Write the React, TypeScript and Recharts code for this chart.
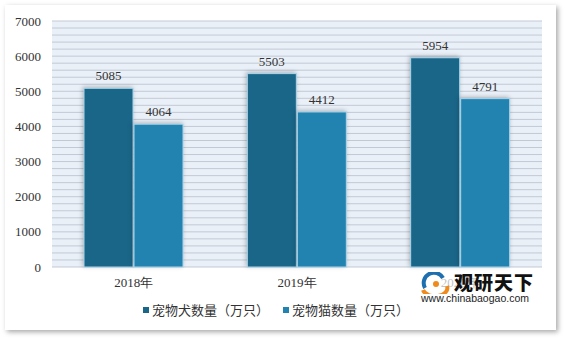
import React from "react";
import {
  BarChart,
  Bar,
  XAxis,
  YAxis,
  CartesianGrid,
  LabelList,
} from "recharts";

const years = ["2018年", "2019年", "2020年"];
const dogCounts = [5085, 5503, 5954];
const catCounts = [4064, 4412, 4791];
const yTicks = [
  0, 200, 400, 600, 800, 1000, 1200, 1400, 1600, 1800, 2000, 2200, 2400, 2600,
  2800, 3000, 3200, 3400, 3600, 3800, 4000, 4200, 4400, 4600, 4800, 5000, 5200,
  5400, 5600, 5800, 6000, 6200, 6400, 6600, 6800, 7000,
];
const seriesNames = ["宠物犬数量（万只）", "宠物猫数量（万只）"];

const data = years.map((y, i) => ({
  year: y,
  dog: dogCounts[i],
  cat: catCounts[i],
}));

const DOG = "#1a6689";
const CAT = "#2383b0";
const serif = "'Liberation Serif', 'DejaVu Serif', serif";
const cjk = "'Noto Sans CJK SC', 'Noto Sans', sans-serif";

// bar with a soft shadow like the original excel export
const ShadowBar = (props: any) => {
  const { x, y, width, height, fill } = props;
  if (!height || height <= 0) return null;
  return (
    <rect
      x={x}
      y={y}
      width={width}
      height={height}
      fill={fill}
      stroke="#a9d6ec"
      strokeWidth={1}
      style={{ filter: "drop-shadow(-1px -1px 2px rgba(0,0,0,0.25))" }}
    />
  );
};

const LegendBox = () => (
  <div
    style={{
      display: "flex",
      gap: 14,
      fontFamily: cjk,
      fontSize: 13,
      color: "#333",
      whiteSpace: "nowrap",
    }}
  >
    {[DOG, CAT].map((c, i) => (
      <div key={i} style={{ display: "flex", alignItems: "center" }}>
        <span
          style={{
            display: "inline-block",
            width: 6,
            height: 6,
            background: c,
            marginRight: 3,
          }}
        />
        {seriesNames[i]}
      </div>
    ))}
  </div>
);

export default function App() {
  return (
    <div
      style={{
        position: "absolute",
        left: 0,
        top: 0,
        width: 566,
        height: 339,
        background: "#fff",
      }}
    >
      {/* white card with grey drop shadow */}
      <div
        style={{
          position: "absolute",
          left: 5,
          top: 5,
          width: 551,
          height: 325,
          background: "#fff",
          boxShadow: "2px 2px 5px rgba(0,0,0,0.35)",
        }}
      />
      <div style={{ position: "absolute", left: 0, top: 0 }}>
        <BarChart
          width={566}
          height={339}
          data={data}
          margin={{ top: 21, right: 24, bottom: 52, left: 0 }}
          barSize={49}
          barGap={1}
        >
          <CartesianGrid
            vertical={false}
            stroke="#c3c9d4"
            fill="#eaf0f8"
            fillOpacity={1}
          />
          <XAxis
            dataKey="year"
            height={20}
            axisLine={false}
            tickLine={false}
            tickMargin={5}
            tick={{ fontFamily: serif, fontSize: 13, fill: "#333" }}
          />
          <YAxis
            width={52}
            domain={[0, 7000]}
            ticks={yTicks}
            interval={0}
            axisLine={false}
            tickLine={false}
            tickMargin={5}
            tickFormatter={(v: number) => (v % 1000 === 0 ? String(v) : "")}
            tick={{ fontFamily: serif, fontSize: 13, fill: "#333" }}
          />
          <Bar
            dataKey="dog"
            name={seriesNames[0]}
            fill={DOG}
            shape={<ShadowBar />}
            isAnimationActive={false}
          >
            <LabelList
              dataKey="dog"
              position="top"
              offset={8}
              style={{ fontFamily: serif, fontSize: 13, fill: "#333" }}
            />
          </Bar>
          <Bar
            dataKey="cat"
            name={seriesNames[1]}
            fill={CAT}
            shape={<ShadowBar />}
            isAnimationActive={false}
          >
            <LabelList
              dataKey="cat"
              position="top"
              offset={8}
              style={{ fontFamily: serif, fontSize: 13, fill: "#333" }}
            />
          </Bar>
        </BarChart>
      </div>
      {/* legend */}
      <div style={{ position: "absolute", left: 143, top: 300 }}>
        <LegendBox />
      </div>
      {/* watermark */}
      <div
        style={{
          position: "absolute",
          left: 420,
          top: 271,
          width: 118,
          height: 31,
          background: "rgba(255,255,255,0.7)",
        }}
      >
        <svg
          width={30}
          height={22}
          style={{ position: "absolute", left: 1, top: 1 }}
        >
          <path d="M4 16 A10 10 0 0 1 22 6" stroke="#1d6fb0" strokeWidth={4} fill="none" />
          <path d="M2 18 A12 8 0 0 0 26 14" stroke="#f08a1c" strokeWidth={4} fill="none" />
          <circle cx={15} cy={12} r={3} fill="#f08a1c" />
        </svg>
        <div
          style={{
            position: "absolute",
            left: 34,
            top: 1,
            fontFamily: cjk,
            fontWeight: 900,
            fontSize: 19,
            lineHeight: "20px",
            color: "#111",
            letterSpacing: 1,
          }}
        >
          观研天下
        </div>
        <div
          style={{
            position: "absolute",
            left: 1,
            top: 21,
            fontFamily: "'Liberation Sans', Arial, sans-serif",
            fontSize: 10.5,
            lineHeight: "12px",
            color: "#222",
          }}
        >
          www.chinabaogao.com
        </div>
      </div>
    </div>
  );
}
